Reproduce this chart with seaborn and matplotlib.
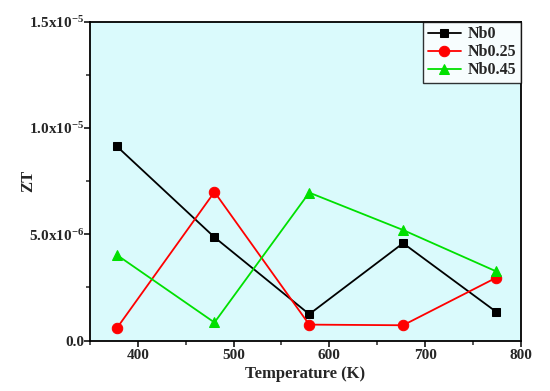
import pandas as pd
import matplotlib
matplotlib.use("Agg")
import matplotlib.pyplot as plt
import seaborn as sns
from matplotlib.ticker import FixedLocator, MultipleLocator, FuncFormatter

# Data
temperature = [378, 480, 579, 677, 774]
zt_nb0 = [9.14e-6, 4.86e-6, 1.24e-6, 4.58e-6, 1.36e-6]
zt_nb025 = [0.58e-6, 6.99e-6, 0.75e-6, 0.72e-6, 2.95e-6]
zt_nb045 = [4.03e-6, 0.85e-6, 6.96e-6, 5.2e-6, 3.26e-6]
samples = ["Nb0", "Nb0.25", "Nb0.45"]

df = pd.DataFrame({
    "Temperature": temperature * 3,
    "ZT": zt_nb0 + zt_nb025 + zt_nb045,
    "Sample": [s for s in samples for _ in temperature],
})

sns.set_style("ticks")
plt.rcParams["font.family"] = ["Liberation Serif", "DejaVu Serif"]
plt.rcParams["font.weight"] = "bold"
plt.rcParams["mathtext.default"] = "regular"

fig = plt.figure(figsize=(5.5, 3.91), dpi=100)
ax = fig.add_axes([0.1636, 0.129, 0.947 - 0.1636, 0.9445 - 0.129])
ax.set_facecolor("#dafafc")

palette = {"Nb0": "black", "Nb0.25": "#ff0000", "Nb0.45": "#00e000"}
markers = {"Nb0": "s", "Nb0.25": "o", "Nb0.45": "^"}
sizes = {"Nb0": 6, "Nb0.25": 7.5, "Nb0.45": 7.5}

for s in samples:
    sub = df[df["Sample"] == s]
    sns.lineplot(data=sub, x="Temperature", y="ZT", ax=ax, color=palette[s],
                 marker=markers[s], markersize=sizes[s], markeredgecolor=palette[s],
                 linewidth=1.3, label=s)

ax.set_xlim(350, 800)
ax.set_ylim(0, 1.5e-5)
ax.xaxis.set_major_locator(MultipleLocator(100))
ax.xaxis.set_minor_locator(MultipleLocator(50))
ax.yaxis.set_major_locator(FixedLocator([0, 5e-6, 1e-5, 1.5e-5]))
ax.yaxis.set_minor_locator(FixedLocator([2.5e-6, 7.5e-6, 1.25e-5]))

def ylab(v, pos):
    if v == 0:
        return "0.0"
    exp = int(f"{v:e}".split("e")[1])
    mant = v / 10 ** exp
    return f"{mant:.1f}x10$^{{{exp}}}$"

ax.yaxis.set_major_formatter(FuncFormatter(ylab))

for sp in ax.spines.values():
    sp.set_linewidth(1.3)
    sp.set_color("black")
ax.tick_params(axis="both", which="major", direction="out", length=4, width=1.3,
               labelsize=11)
ax.tick_params(axis="x", which="major", pad=2)
ax.tick_params(axis="y", which="major", pad=0)
ax.tick_params(axis="both", which="minor", direction="out", length=3, width=1.1)
for lbl in ax.get_xticklabels() + ax.get_yticklabels():
    lbl.set_fontweight("bold")

ax.set_xlabel("Temperature (K)", fontsize=12, fontweight="bold", labelpad=3)
ax.set_ylabel("ZT", fontsize=12, fontweight="bold")
ax.yaxis.set_label_coords(-0.125, 0.5)

leg = ax.legend(loc="upper right", frameon=True, fancybox=False, fontsize=11.5,
                handlelength=2.1, borderaxespad=0.0, labelspacing=0.12,
                handletextpad=0.4, borderpad=0.3)
leg.get_frame().set_edgecolor("black")
leg.get_frame().set_linewidth(1.0)
for t in leg.get_texts():
    t.set_fontweight("bold")

fig.savefig("out.png", dpi=100)
